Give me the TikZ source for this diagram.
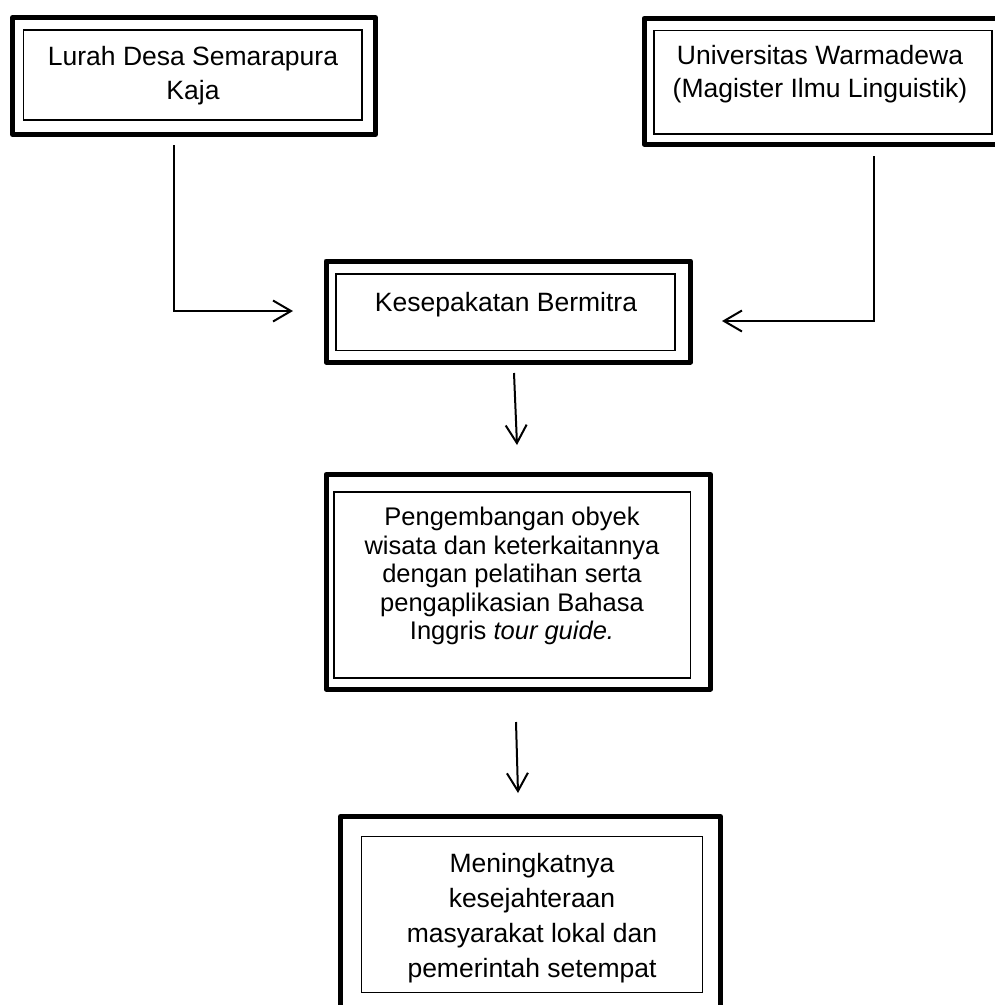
\documentclass[tikz,border=0pt]{standalone}
\usepackage{fontspec}
\setmainfont{Liberation Sans}
\usetikzlibrary{arrows.meta}
\begin{document}
\begin{tikzpicture}[x=1pt,y=-1pt,
  outerbox/.style={line width=5pt, line join=round},
  innerbox/.style={line width=1.1pt},
  txt/.style={align=center, inner sep=0pt, font=\fontsize{26.5}{34}\selectfont},
  conn/.style={line width=2pt, -{Straight Barb[length=18pt,width=21pt,line width=2pt]}}]
\clip (0,0) rectangle (995,1005);
\fill[white] (0,0) rectangle (995,1005);
% Lurah box
\draw[outerbox] (12.5,17.5) rectangle (375.5,134.5);
\draw[innerbox] (23.5,30) rectangle (362,120);
\node[txt] (lurah) at (193,76) {Lurah Desa Semarapura\\Kaja};
% Universitas box
\draw[outerbox] (644,18.5) rectangle (1010,144);
\draw[innerbox] (654,30.7) rectangle (992,134);
\node[txt, font=\fontsize{26.5}{33}\selectfont] (univ) at (820,74) {Universitas Warmadewa\\(Magister Ilmu Linguistik)};
% Kesepakatan box
\draw[outerbox] (326,261) rectangle (690.5,362);
\draw[innerbox] (336,274) rectangle (675,350.7);
\node[txt] (kes) at (506,305) {Kesepakatan Bermitra};
% Pengembangan box
\draw[outerbox] (326,474.5) rectangle (710.5,689);
\draw[innerbox] (334,492) rectangle (690.7,678);
\node[txt, font=\fontsize{25.5}{28.5}\selectfont] (peng) at (512,576) {Pengembangan obyek\\wisata dan keterkaitannya\\dengan pelatihan serta\\pengaplikasian Bahasa\\Inggris \textit{tour guide.}};
% Meningkatnya box
\draw[outerbox] (340.5,816.5) rectangle (720.5,1020);
\draw[innerbox] (361.7,836.7) rectangle (702.7,992.3);
\node[txt, font=\fontsize{26.5}{35}\selectfont] (mening) at (532,918) {Meningkatnya\\kesejahteraan\\masyarakat lokal dan\\pemerintah setempat};
% connectors
\coordinate (a1s) at (174,145);
\coordinate (a1e) at (293,311);
\coordinate (a2s) at (874,156);
\coordinate (a2e) at (722,321);
\coordinate (a3s) at (514,373);
\coordinate (a3e) at (517,445);
\coordinate (a4s) at (516,722);
\coordinate (a4e) at (518,793);
\draw[conn] (a1s) |- (a1e);
\draw[conn] (a2s) |- (a2e);
\draw[conn] (a3s) -- (a3e);
\draw[conn] (a4s) -- (a4e);
\end{tikzpicture}
\end{document}
